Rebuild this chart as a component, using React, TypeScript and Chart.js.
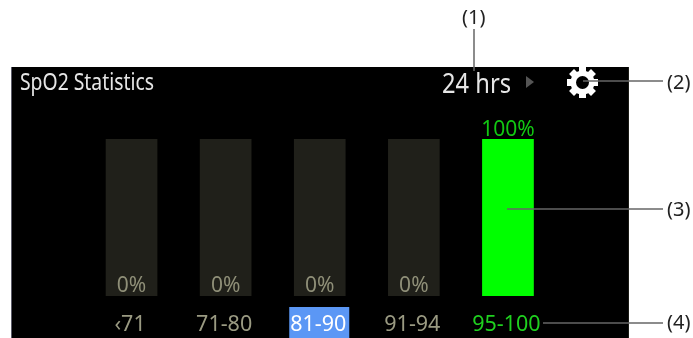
import React, { useEffect, useRef } from "react";
import { Chart, registerables } from "chart.js";

Chart.register(...registerables);

const categories = ["‹71", "71-80", "81-90", "91-94", "95-100"];
const percentValues = [0, 0, 0, 0, 100];
const trackValues = [100, 100, 100, 100, 100];
const percentLabels = ["0%", "0%", "0%", "0%", "100%"];
const tickColors = ["#9a9a82", "#9a9a82", "#ffffff", "#9a9a82", "#1fd01f"];
const labelColors = ["#8f8f78", "#8f8f78", "#8f8f78", "#8f8f78", "#12c812"];

const FONT = '"Noto Sans"';

function squeezedText(ctx: CanvasRenderingContext2D, text: string, left: number, baseline: number, size: number, width: number, color: string) {
  ctx.save();
  ctx.font = `${size}px ${FONT}`;
  ctx.fillStyle = color;
  ctx.textAlign = "left";
  ctx.textBaseline = "alphabetic";
  const natural = ctx.measureText(text).width;
  ctx.translate(left, baseline);
  ctx.scale(width / natural, 1);
  ctx.fillText(text, 0, 0);
  ctx.restore();
}

function drawGear(ctx: CanvasRenderingContext2D, cx: number, cy: number) {
  ctx.save();
  ctx.translate(cx, cy);
  ctx.fillStyle = "#ffffff";
  ctx.beginPath();
  ctx.arc(0, 0, 12, 0, Math.PI * 2);
  ctx.fill();
  for (let i = 0; i < 8; i++) {
    ctx.save();
    ctx.rotate((i * Math.PI) / 4);
    ctx.fillRect(-3.5, -15.5, 7, 8);
    ctx.restore();
  }
  ctx.fillStyle = "#000000";
  ctx.beginPath();
  ctx.arc(0, 0, 6.5, 0, Math.PI * 2);
  ctx.fill();
  ctx.restore();
}

const panelPlugin = {
  id: "panel",
  beforeDraw(chart: any) {
    const { ctx } = chart;
    ctx.save();
    ctx.fillStyle = "#ffffff";
    ctx.fillRect(0, 0, 693, 338);
    ctx.fillStyle = "#000000";
    ctx.fillRect(12, 67, 617, 271);
    ctx.fillStyle = "#5c5c6a";
    ctx.fillRect(11, 67, 1, 271);
    ctx.fillStyle = "#1c1c16";
    ctx.fillRect(628, 67, 1, 271);
    const x = chart.scales.x;
    const c = x.getPixelForTick(2);
    ctx.fillStyle = "#5b97f5";
    ctx.fillRect(c - 30.5, 307, 60, 31);
    ctx.restore();
  },
};

const overlayPlugin = {
  id: "overlay",
  afterDraw(chart: any) {
    const { ctx } = chart;
    const bars = chart.getDatasetMeta(0).data;
    const track = chart.getDatasetMeta(1).data;
    ctx.save();
    ctx.textAlign = "center";
    ctx.textBaseline = "alphabetic";
    percentLabels.forEach((label, i) => {
      ctx.font = `21px ${FONT}`;
      ctx.fillStyle = labelColors[i];
      const y = percentValues[i] > 0 ? bars[i].y - 3 : track[i].base - 4;
      ctx.fillText(label, bars[i].x, y);
    });
    ctx.restore();

    squeezedText(ctx, "SpO2 Statistics", 20, 90, 23, 134, "#e6e6e6");
    squeezedText(ctx, "24 hrs", 442, 93, 27, 69, "#e6e6e6");
    ctx.save();
    ctx.fillStyle = "#555555";
    ctx.beginPath();
    ctx.moveTo(526, 76);
    ctx.lineTo(534, 82);
    ctx.lineTo(526, 88);
    ctx.closePath();
    ctx.fill();
    ctx.restore();
    drawGear(ctx, 582.5, 82.5);

    ctx.save();
    ctx.strokeStyle = "#666666";
    ctx.lineWidth = 1.5;
    const lines = [
      [474, 29, 474, 71],
      [583, 81, 663, 81],
      [507, 209, 663, 209],
      [543, 323, 663, 323],
    ];
    lines.forEach(([a, b, c, d]) => {
      ctx.beginPath();
      ctx.moveTo(a, b);
      ctx.lineTo(c, d);
      ctx.stroke();
    });
    ctx.fillStyle = "#222222";
    ctx.font = `20px ${FONT}`;
    ctx.textAlign = "left";
    ctx.textBaseline = "alphabetic";
    ctx.fillText("(1)", 462, 24);
    ctx.fillText("(2)", 667, 89);
    ctx.fillText("(3)", 667, 216);
    ctx.fillText("(4)", 667, 329);
    ctx.restore();
  },
};

export default function App() {
  const ref = useRef<HTMLCanvasElement>(null);
  useEffect(() => {
    const chart = new Chart(ref.current!, {
      type: "bar",
      data: {
        labels: categories,
        datasets: [
          {
            data: percentValues,
            backgroundColor: (c: any) => (c.raw > 0 ? "#00ff00" : "rgba(0,0,0,0)"),
            barThickness: 51,
            order: 1,
          },
          { data: trackValues, backgroundColor: "#20201a", barThickness: 51, order: 2 },
        ],
      },
      options: {
        responsive: false,
        animation: false,
        layout: { padding: { left: 84.5, right: 138, top: 139, bottom: 0 } },
        plugins: { legend: { display: false }, tooltip: { enabled: false } },
        scales: {
          x: {
            stacked: true,
            grid: { display: false },
            border: { display: false },
            afterFit(scale: any) {
              scale.height = 42;
            },
            ticks: {
              color: tickColors,
              font: { family: "Noto Sans", size: 21.5 },
              padding: 8,
              maxRotation: 0,
              autoSkip: false,
              labelOffset: -1.5,
            },
          },
          y: { display: false, min: 0, max: 100, stacked: false },
        },
      },
      plugins: [panelPlugin, overlayPlugin],
    });
    return () => chart.destroy();
  }, []);
  return (
    <div style={{ position: "fixed", left: 0, top: 0, width: 693, height: 338 }}>
      <canvas ref={ref} width={693} height={338} style={{ display: "block", filter: "blur(0.35px)" }} />
    </div>
  );
}
